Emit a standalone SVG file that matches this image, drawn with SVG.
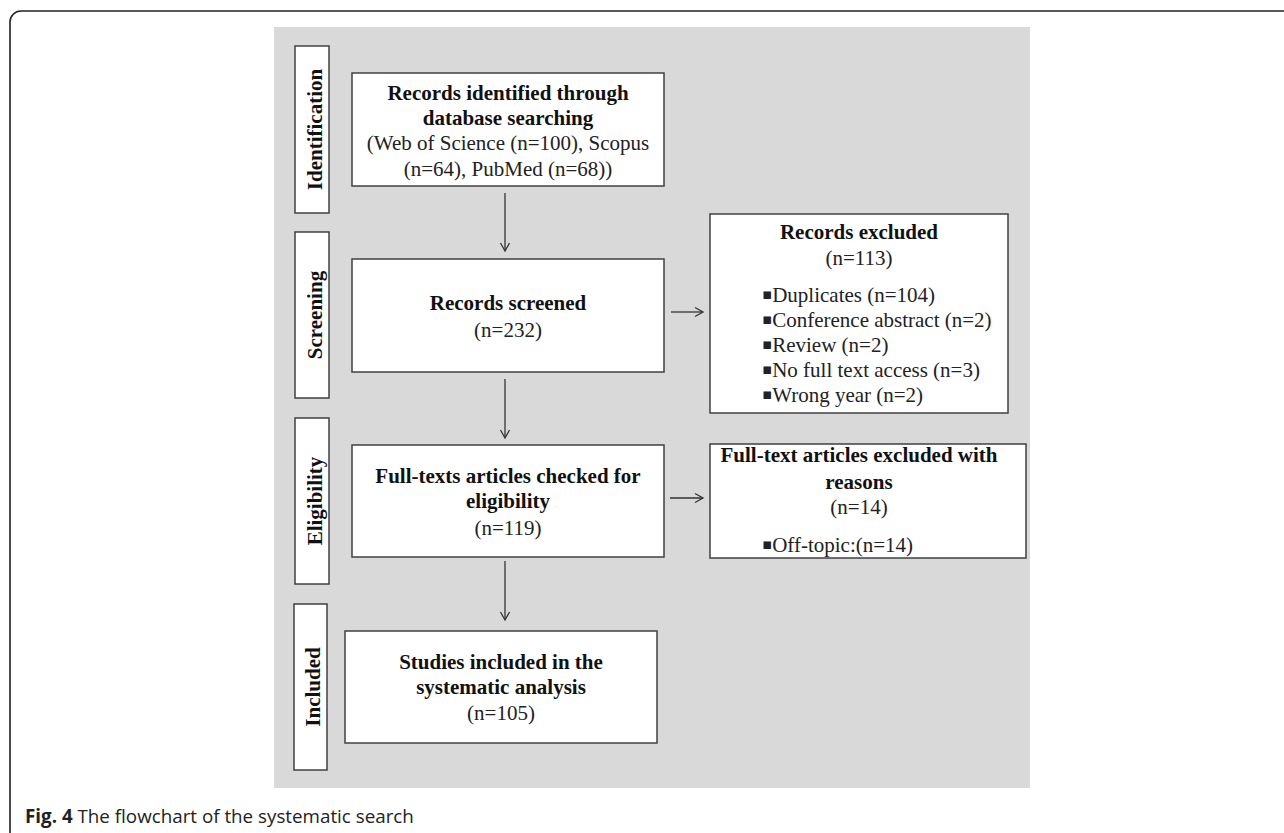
<svg xmlns="http://www.w3.org/2000/svg" width="1284" height="833" viewBox="0 0 1284 833">
<defs>
<style>
.box{fill:#fff;stroke:#404040;stroke-width:1.5}
.b{font-family:"Liberation Serif","Times New Roman",serif;font-weight:bold;font-size:21px;fill:#111}
.r{font-family:"Liberation Serif","Times New Roman",serif;font-size:21px;fill:#222}
.c{text-anchor:middle}
.bul{font-family:"DejaVu Sans",sans-serif;font-size:15px;baseline-shift:3px}
.conn{stroke:#333;stroke-width:1.3;fill:none}
.cap{font-family:"Open Sans","Noto Sans",sans-serif;font-size:18.8px;fill:#222}
</style>
<marker id="arr" markerWidth="12" markerHeight="12" refX="10" refY="6" orient="auto" markerUnits="userSpaceOnUse">
<path d="M2,1.5 L10,6 L2,10.5" fill="none" stroke="#333" stroke-width="1.3"/>
</marker>
</defs>
<rect width="1284" height="833" fill="#fff"/>
<path d="M1284,11 H21 A11,11 0 0 0 10,22 V833" fill="none" stroke="#222" stroke-width="1.6"/>
<rect x="274" y="27" width="756" height="761" fill="#d9d9d9"/>

<g id="stage-identification">
<rect class="box" x="295" y="46" width="34" height="167"/>
<text class="b c" transform="translate(321.5,129.5) rotate(-90)">Identification</text>
</g>
<g id="stage-screening">
<rect class="box" x="295" y="232" width="34" height="166"/>
<text class="b c" transform="translate(321.5,315) rotate(-90)">Screening</text>
</g>
<g id="stage-eligibility">
<rect class="box" x="295" y="418" width="34" height="166"/>
<text class="b c" transform="translate(321.5,501) rotate(-90)">Eligibility</text>
</g>
<g id="stage-included">
<rect class="box" x="294" y="604" width="33" height="166"/>
<text class="b c" transform="translate(320,687) rotate(-90)">Included</text>
</g>

<g id="node-identified">
<rect class="box" x="352" y="73" width="312" height="113"/>
<text class="b c" x="508" y="100">Records identified through</text>
<text class="b c" x="508" y="125">database searching</text>
<text class="r c" x="508" y="150">(Web of Science (n=100), Scopus</text>
<text class="r c" x="508" y="176">(n=64), PubMed (n=68))</text>
</g>
<g id="node-screened">
<rect class="box" x="352" y="259" width="312" height="113"/>
<text class="b c" x="508" y="310">Records screened</text>
<text class="r c" x="508" y="337">(n=232)</text>
</g>
<g id="node-excluded">
<rect class="box" x="710" y="214" width="298" height="199"/>
<text class="b c" x="859" y="239">Records excluded</text>
<text class="r c" x="859" y="265">(n=113)</text>
<text class="r" x="762" y="302"><tspan class="bul">▪</tspan>Duplicates (n=104)</text>
<text class="r" x="762" y="327"><tspan class="bul">▪</tspan>Conference abstract (n=2)</text>
<text class="r" x="762" y="352"><tspan class="bul">▪</tspan>Review (n=2)</text>
<text class="r" x="762" y="377"><tspan class="bul">▪</tspan>No full text access (n=3)</text>
<text class="r" x="762" y="402"><tspan class="bul">▪</tspan>Wrong year (n=2)</text>
</g>
<g id="node-fulltext">
<rect class="box" x="352" y="445" width="312" height="112"/>
<text class="b c" x="508" y="483">Full-texts articles checked for</text>
<text class="b c" x="508" y="508">eligibility</text>
<text class="r c" x="508" y="535">(n=119)</text>
</g>
<g id="node-fulltext-excluded">
<rect class="box" x="710" y="444" width="316" height="114"/>
<text class="b c" x="859" y="462">Full-text articles excluded with</text>
<text class="b c" x="859" y="489">reasons</text>
<text class="r c" x="859" y="514">(n=14)</text>
<text class="r" x="762" y="552"><tspan class="bul">▪</tspan>Off-topic:(n=14)</text>
</g>
<g id="node-included">
<rect class="box" x="345" y="631" width="312" height="112"/>
<text class="b c" x="501" y="669">Studies included in the</text>
<text class="b c" x="501" y="694">systematic analysis</text>
<text class="r c" x="501" y="720">(n=105)</text>
</g>

<g id="connectors">
<line class="conn" x1="505" y1="193" x2="505" y2="251" marker-end="url(#arr)"/>
<line class="conn" x1="505" y1="379" x2="505" y2="438" marker-end="url(#arr)"/>
<line class="conn" x1="505" y1="561" x2="505" y2="620" marker-end="url(#arr)"/>
<line class="conn" x1="671" y1="312" x2="703" y2="312" marker-end="url(#arr)"/>
<line class="conn" x1="670" y1="498" x2="703" y2="498" marker-end="url(#arr)"/>
</g>

<text class="cap" x="25" y="823"><tspan font-weight="bold">Fig. 4</tspan> The flowchart of the systematic search</text>
</svg>
